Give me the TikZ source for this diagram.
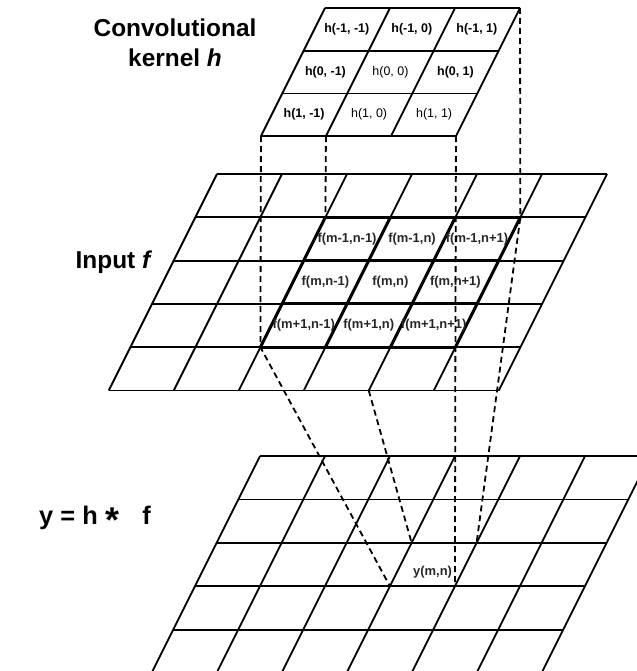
\documentclass[tikz,border=0pt]{standalone}
\usepackage{fontspec}
\setmainfont{Liberation Sans}
\usetikzlibrary{calc}

\begin{document}
\begin{tikzpicture}[
    x=1bp,y=-1bp,
    gridline/.style={line width=1.8bp},
    boldline/.style={line width=3bp},
    proj/.style={line width=1.8bp,dash pattern=on 6bp off 4bp},
    hbold/.style={inner sep=0pt,font=\fontsize{12.5}{14}\selectfont\bfseries},
    hplain/.style={inner sep=0pt,font=\fontsize{12.5}{14}\selectfont},
    fcell/.style={inner sep=0pt,font=\fontsize{13}{15}\selectfont\bfseries,text=black!85},
    heading/.style={inner sep=0pt,align=center,font=\fontsize{24.5}{30}\selectfont\bfseries}
  ]
    \clip (0,0) rectangle (637,671);

    % kernel h
    \begin{scope}[shift={(325,8)},x={(65bp,0bp)},y={(-21.35bp,-42.7bp)}]
      \foreach \j in {0,...,3} \draw[gridline] (0,\j) -- (3,\j);
      \foreach \i in {0,...,3} \draw[gridline] (\i,0) -- (\i,3);
      \coordinate (ktr) at (3,0);
      \coordinate (kbl) at (0,3);
      \coordinate (kb1) at (1,3);
      \coordinate (kbr) at (3,3);
      \node[hbold]  (h-0-0) at (0.5,0.5) {h(-1, -1)};
      \node[hbold]  (h-0-1) at (1.5,0.5) {h(-1, 0)};
      \node[hbold]  (h-0-2) at (2.5,0.5) {h(-1, 1)};
      \node[hbold]  (h-1-0) at (0.5,1.5) {h(0, -1)};
      \node[hplain] (h-1-1) at (1.5,1.5) {h(0, 0)};
      \node[hbold]  (h-1-2) at (2.5,1.5) {h(0, 1)};
      \node[hbold]  (h-2-0) at (0.5,2.5) {h(1, -1)};
      \node[hplain] (h-2-1) at (1.5,2.5) {h(1, 0)};
      \node[hplain] (h-2-2) at (2.5,2.5) {h(1, 1)};
    \end{scope}

    % input f
    \begin{scope}[shift={(217,174)},x={(65bp,0bp)},y={(-21.65bp,-43.3bp)}]
      \foreach \j in {0,...,5} \draw[gridline] (0,\j) -- (6,\j);
      \foreach \i in {0,...,6} \draw[gridline] (\i,0) -- (\i,5);
      \foreach \j in {1,...,4} \draw[boldline] (2,\j) -- (5,\j);
      \foreach \i in {2,...,5} \draw[boldline] (\i,1) -- (\i,4);
      \coordinate (ftl) at (2,1);
      \coordinate (ftr) at (5,1);
      \coordinate (fbl) at (2,4);
      \coordinate (fbr) at (5,4);
      \coordinate (fb4) at (4,5);
      \node[fcell] (f-0-0) at (2.5,1.5) {f(m-1,n-1)};
      \node[fcell] (f-0-1) at (3.5,1.5) {f(m-1,n)};
      \node[fcell] (f-0-2) at (4.5,1.5) {f(m-1,n+1)};
      \node[fcell] (f-1-0) at (2.5,2.5) {f(m,n-1)};
      \node[fcell] (f-1-1) at (3.5,2.5) {f(m,n)};
      \node[fcell] (f-1-2) at (4.5,2.5) {f(m,n+1)};
      \node[fcell] (f-2-0) at (2.5,3.5) {f(m+1,n-1)};
      \node[fcell] (f-2-1) at (3.5,3.5) {f(m+1,n)};
      \node[fcell] (f-2-2) at (4.5,3.5) {f(m+1,n+1)};
    \end{scope}

    % output y
    \begin{scope}[shift={(260,456)},x={(65bp,0bp)},y={(-21.7bp,-43.4bp)}]
      \foreach \j in {0,...,5} \draw[gridline] (0,\j) -- (6,\j);
      \foreach \i in {0,...,6} \draw[gridline] (\i,0) -- (\i,5);
      \coordinate (ytl) at (3,2);
      \coordinate (ytr) at (4,2);
      \coordinate (ybl) at (3,3);
      \coordinate (ybr) at (4,3);
      \node[fcell] (ymn) at (3.55,2.68) {y(m,n)};
    \end{scope}

    % projection lines
    \draw[proj] (kbl) -- (fbl) -- (ybl);
    \draw[proj] (kb1) -- (ftl);
    \draw[proj] (fb4) -- (ytl);
    \draw[proj] (kbr) -- (fbr) -- (ybr);
    \draw[proj] (ktr) -- (ftr) -- (ytr);

    \node[heading] (kname) at (175,43) {Convolutional\\kernel \textit{h}};
    \node[heading] (fname) at (114,262.5) {Input \textit{f}};
    \node[heading,font=\fontsize{25.5}{30}\selectfont\bfseries] (yname) at (95,519)
      {y = h\hspace{0.3em}\raisebox{-0.3em}{\fontsize{36}{36}\selectfont *}\hspace{0.9em}f};
\end{tikzpicture}
\end{document}
